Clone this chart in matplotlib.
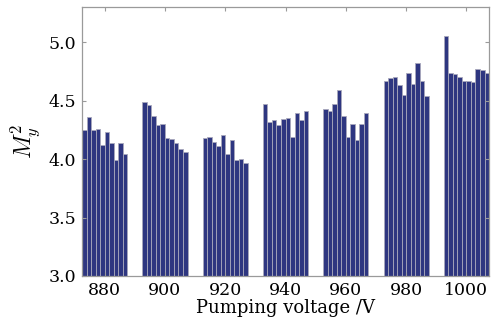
import matplotlib
matplotlib.use("Agg")
import matplotlib.pyplot as plt
import numpy as np

VOLTAGES = [880, 900, 920, 940, 960, 980, 1000]

M2_Y = [
    [4.25, 4.36, 4.25, 4.26, 4.12, 4.23, 4.14, 3.99, 4.14, 4.04],
    [4.49, 4.46, 4.37, 4.29, 4.30, 4.18, 4.17, 4.14, 4.09, 4.06],
    [4.18, 4.19, 4.15, 4.11, 4.21, 4.04, 4.16, 3.99, 4.00, 3.97],
    [4.47, 4.32, 4.33, 4.29, 4.34, 4.35, 4.19, 4.39, 4.33, 4.41],
    [4.43, 4.41, 4.47, 4.59, 4.37, 4.19, 4.30, 4.16, 4.30, 4.39],
    [4.67, 4.69, 4.70, 4.63, 4.55, 4.74, 4.64, 4.82, 4.67, 4.54],
    [5.05, 4.74, 4.73, 4.70, 4.67, 4.67, 4.66, 4.77, 4.76, 4.74],
]

BAR_COLOR = "#2e3680"
EDGE_COLOR = "#a8a8bc"
AXIS_COLOR = "#9a9a9a"


def main():
    plt.rcParams.update({
        "font.family": "serif",
        "font.serif": ["DejaVu Serif"],
        "mathtext.fontset": "cm",
    })
    fig = plt.figure(figsize=(4.91, 3.22), dpi=100)
    ax = fig.add_axes([0.167, 0.143, 0.829, 0.835])

    data = np.asarray(M2_Y)
    n_groups, n_bars = data.shape
    width = 1.5
    offsets = (np.arange(n_bars) - (n_bars - 1) / 2) * width
    for i, v in enumerate(VOLTAGES):
        ax.bar(v + offsets, data[i] - 3.0, width, bottom=3.0,
               color=BAR_COLOR, edgecolor=EDGE_COLOR, linewidth=0.6)

    ax.set_xlim(VOLTAGES[0] - 7.5, VOLTAGES[-1] + 7.5)
    ax.set_ylim(3.0, 5.3)
    ax.set_xticks(VOLTAGES)
    ax.set_yticks([3.0, 3.5, 4.0, 4.5, 5.0])
    ax.set_yticklabels(["3.0", "3.5", "4.0", "4.5", "5.0"])

    for s in ax.spines.values():
        s.set_color(AXIS_COLOR)
        s.set_linewidth(0.9)
    ax.tick_params(direction="in", length=3, width=0.8, color=AXIS_COLOR,
                   top=True, right=True, labelsize=12.5, pad=4)
    ax.set_xlabel("Pumping voltage /V", fontsize=13, labelpad=0)
    ax.set_ylabel(r"$M_y^2$", fontsize=17, labelpad=5)

    fig.savefig("out.png", dpi=100)


if __name__ == "__main__":
    main()
